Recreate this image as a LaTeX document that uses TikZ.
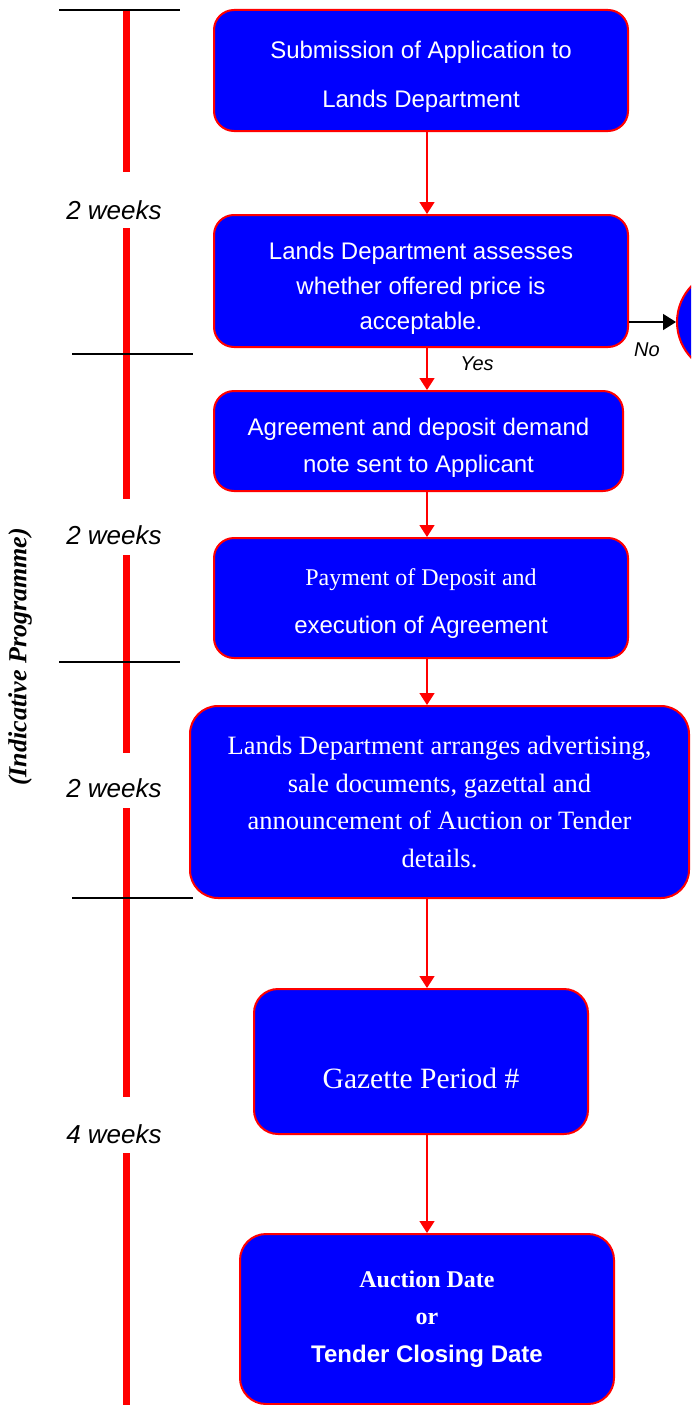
\documentclass[tikz,border=0pt]{standalone}
\usepackage{fontspec}
\setmainfont{Liberation Serif}
\setsansfont{Liberation Sans}
\usetikzlibrary{arrows.meta}
\newcommand{\lowerby}[1]{\rule{0pt}{#1}}
\begin{document}
\begin{tikzpicture}[x=1pt,y=-1pt,
  flowbox/.style={draw=red, fill=blue, line width=2pt, rounded corners=20pt,
    text=white, align=center, inner sep=0pt},
  flow/.style={draw=red, line width=1.5pt, -{Triangle[length=12pt,width=15pt]}},
  noarrow/.style={draw=black, line width=1.5pt, -{Triangle[length=13pt,width=16pt]}},
  timeline/.style={draw=red, line width=7pt},
  tickline/.style={draw=black, line width=1.5pt},
  weeks/.style={font=\sffamily\itshape\fontsize{26}{30}\selectfont, inner sep=0pt},
  small/.style={font=\sffamily\itshape\fontsize{20}{24}\selectfont, inner sep=0pt}]
\useasboundingbox (0,0) rectangle (691,1405);
\clip (0,0) rectangle (691,1405);

% timeline
\draw[timeline] (126,10) -- (126,172);
\draw[timeline] (126,228) -- (126,499);
\draw[timeline] (126,555) -- (126,753);
\draw[timeline] (126,808) -- (126,1097);
\draw[timeline] (126,1153) -- (126,1405);
\draw[tickline] (59,10) -- (180,10);
\draw[tickline] (72,354) -- (193,354);
\draw[tickline] (59,662) -- (180,662);
\draw[tickline] (72,898) -- (193,898);
\node[weeks] (w1) at (114,210) {2 weeks};
\node[weeks] (w2) at (114,535) {2 weeks};
\node[weeks] (w3) at (114,788) {2 weeks};
\node[weeks] (w4) at (114,1134) {4 weeks};
\node[rotate=90, inner sep=0pt, font=\rmfamily\bfseries\itshape\fontsize{26}{30}\selectfont] (prog) at (20,657) {(Indicative Programme)};

% boxes
\node[flowbox, minimum width=414pt, minimum height=121pt,
  font=\sffamily\fontsize{24}{49}\selectfont] (submit) at (421,70.5)
  {\lowerby{30.5pt}Submission of Application to\\Lands Department};
\node[flowbox, minimum width=414pt, minimum height=132pt,
  font=\sffamily\fontsize{24}{35}\selectfont] (assess) at (421,281)
  {\lowerby{31.5pt}Lands Department assesses\\whether offered price is\\acceptable.};
\node[flowbox, minimum width=409pt, minimum height=100pt,
  font=\sffamily\fontsize{24}{37}\selectfont] (agree) at (418.5,441)
  {\lowerby{31.5pt}Agreement and deposit demand\\note sent to Applicant};
\node[flowbox, minimum width=414pt, minimum height=120pt,
  font=\sffamily\fontsize{24}{48}\selectfont] (pay) at (421,598)
  {{\rmfamily\lowerby{28.4pt}Payment of Deposit and}\\execution of Agreement};
\node[flowbox, rounded corners=28pt, minimum width=499pt, minimum height=192pt,
  font=\rmfamily\fontsize{26.5}{37.6}\selectfont] (arrange) at (439.5,802)
  {Lands Department arranges advertising,\\sale documents, gazettal and\\announcement of Auction or Tender\\details.};
\node[flowbox, rounded corners=24pt, minimum width=334pt, minimum height=145pt,
  text height=53pt, text depth=0pt,
  font=\rmfamily\fontsize{29.5}{34}\selectfont] (gazette) at (421,1061.5)
  {Gazette Period \#};
\node[flowbox, rounded corners=26pt, minimum width=374pt, minimum height=170pt,
  font=\bfseries\fontsize{24}{37.5}\selectfont] (auction) at (427,1319)
  {{\rmfamily Auction Date}\\{\rmfamily or}\\{\sffamily Tender Closing Date}};
\node[circle, draw=red, fill=blue, line width=2pt, minimum size=104pt, inner sep=0pt] (reject) at (729,322) {};

% connectors
\coordinate (ax) at (427,0);
\draw[flow] (submit.south -| ax) -- (assess.north -| ax);
\draw[flow] (assess.south -| ax) -- (agree.north -| ax);
\draw[flow] (agree.south -| ax) -- (pay.north -| ax);
\draw[flow] (pay.south -| ax) -- (arrange.north -| ax);
\draw[flow] (arrange.south -| ax) -- (gazette.north -| ax);
\draw[flow] (gazette.south -| ax) -- (auction.north -| ax);
\draw[noarrow] (assess.east |- reject.west) -- (reject.west);
\node[small] (yes) at (477,364) {Yes};
\node[small] (no) at (647,350) {No};
\end{tikzpicture}
\end{document}
